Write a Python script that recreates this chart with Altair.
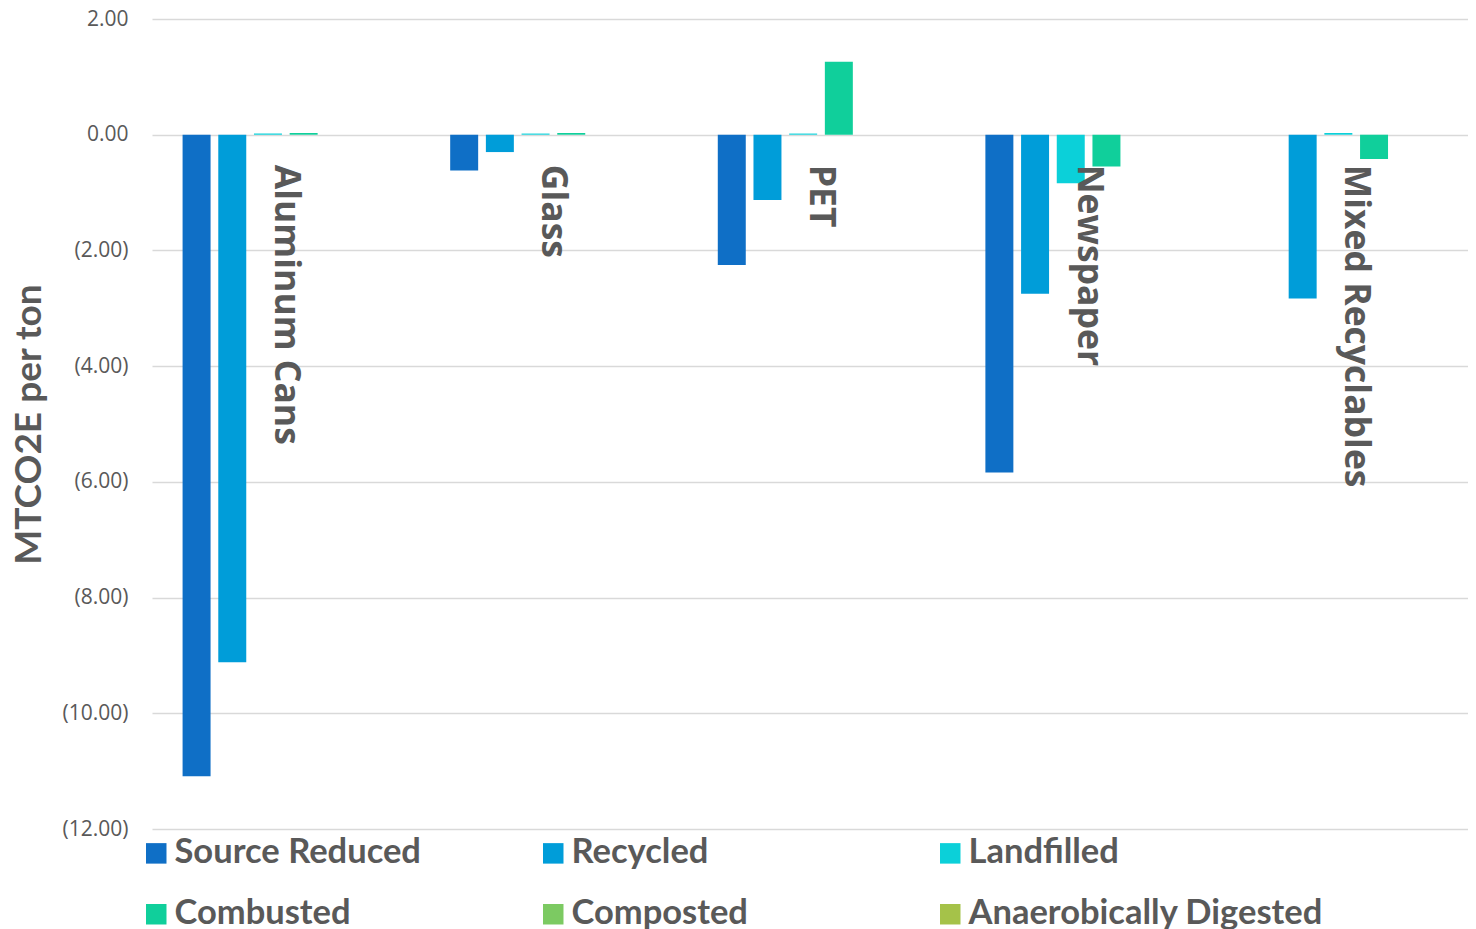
import altair as alt
import pandas as pd

categories = ["Aluminum Cans", "Glass", "PET", "Newspaper", "Mixed Recyclables"]
series = ["Source Reduced", "Recycled", "Landfilled", "Combusted", "Composted", "Anaerobically Digested"]
colors = ["#0F6FC6", "#009DD9", "#0BD0D9", "#10CF9B", "#7CCA62", "#A5C249"]

source_reduced = [-11.09, -0.62, -2.25, -5.84, None]
recycled = [-9.12, -0.30, -1.13, -2.75, -2.83]
landfilled = [0.02, 0.02, 0.02, -0.84, 0.03]
combusted = [0.03, 0.03, 1.26, -0.55, -0.42]
composted = [None, None, None, None, None]
anaerobically_digested = [None, None, None, None, None]

y_ticks = [2, 0, -2, -4, -6, -8, -10, -12]

values_by_series = [source_reduced, recycled, landfilled, combusted, composted, anaerobically_digested]
rows = []
for s, vals in zip(series, values_by_series):
    for c, v in zip(categories, vals):
        if v is not None:
            rows.append({"category": c, "series": s, "value": v})
df = pd.DataFrame(rows)
lab_df = pd.DataFrame({"category": categories, "zero": [0] * len(categories)})

GRAY = "#595959"

x_scale = alt.Scale(domain=categories, paddingInner=0, paddingOuter=0, range=[0, 1338])

bars = alt.Chart(df).mark_bar().encode(
    x=alt.X("category:N", scale=x_scale, sort=categories,
            axis=alt.Axis(title=None, labels=False, ticks=False, domain=False, grid=False)),
    xOffset=alt.XOffset("series:N", scale=alt.Scale(domain=series, paddingInner=0.216, paddingOuter=0.857)),
    y=alt.Y("value:Q",
            scale=alt.Scale(domain=[-12, 2], nice=False, zero=False),
            axis=alt.Axis(
                title="MTCO2E per ton",
                values=y_ticks,
                labelExpr="datum.value < 0 ? '(' + format(-datum.value, '.2f') + ')' : format(datum.value, '.2f')",
                labelFont="Open Sans", labelFontSize=21, labelColor=GRAY, labelPadding=24,
                titleFont="Lato", titleFontSize=37, titleFontWeight="bold", titleColor=GRAY, titlePadding=14,
                ticks=False, domain=False, grid=True, gridColor="#D9D9D9", gridWidth=1.3,
            )),
    color=alt.Color("series:N", scale=alt.Scale(domain=series, range=colors),
                    legend=alt.Legend(
                        title=None, orient="none", legendX=-13, legendY=817, columns=3,
                        direction="horizontal",
                        symbolType="square", symbolSize=420, symbolStrokeWidth=0,
                        labelFont="Lato", labelFontSize=34.5, labelFontWeight="bold", labelColor=GRAY,
                        labelOffset=1, rowPadding=26, columnPadding=6, gridAlign="all", labelLimit=600,
                    )),
)

labels = alt.Chart(lab_df).mark_text(
    angle=90, align="left", baseline="middle", dx=30,
    font="Open Sans", fontSize=35.5, fontWeight="bold", color=GRAY,
).encode(
    x=alt.X("category:N", scale=x_scale, sort=categories),
    y=alt.Y("zero:Q"),
    text="category:N",
)

chart = alt.layer(bars, labels).properties(
    width=1316, height=810,
    autosize=alt.AutoSizeParams(type="none"),
    padding={"left": 144, "top": 11, "right": 0, "bottom": 100},
).configure_view(stroke=None)

chart.save("out.html", embed_options={"renderer": "svg", "actions": False})
